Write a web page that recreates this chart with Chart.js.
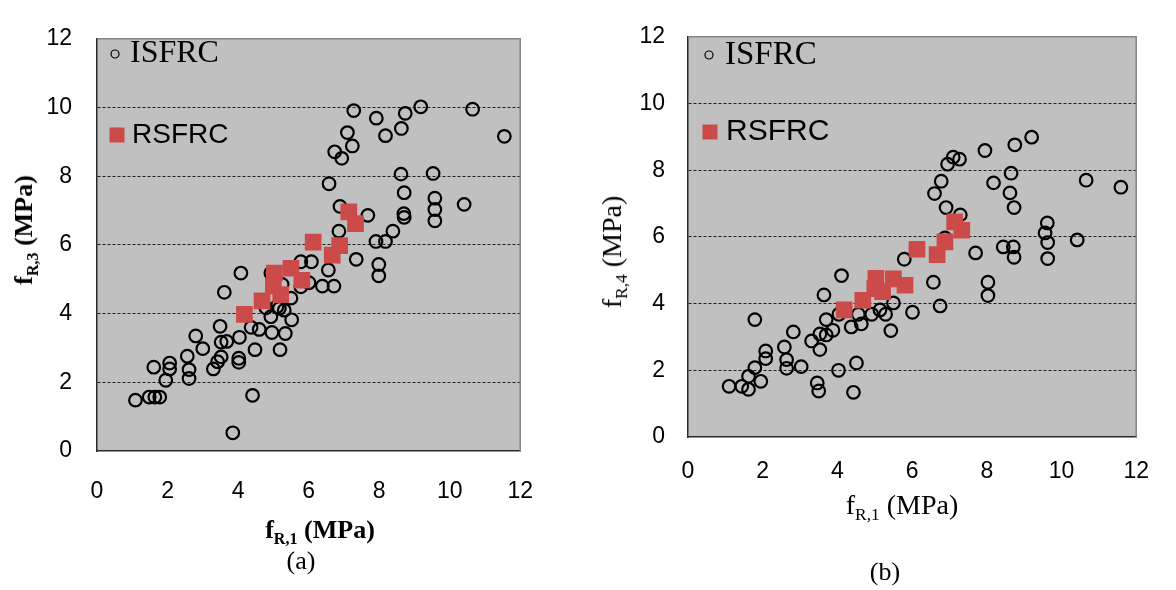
<!DOCTYPE html>
<html>
<head>
<meta charset="utf-8">
<script src="https://cdn.jsdelivr.net/npm/chart.js@4.4.0/dist/chart.umd.min.js"></script>
<style>
  body { margin: 0; background: #fff; width: 1176px; height: 590px; position: relative; overflow: hidden; }
  canvas { position: absolute; top: 0; }
  .lbl { position: absolute; font-family: "Liberation Serif", "Times New Roman", serif; color: #000; white-space: nowrap; line-height: 1; }
  .lbl sub { font-size: 0.62em; vertical-align: -0.35em; line-height: 0; }
</style>
</head>
<body>
<canvas id="chartA" width="560" height="520" style="left:0"></canvas>
<canvas id="chartB" width="580" height="500" style="left:590px"></canvas>

<div class="lbl" style="left:24px;top:230px;font-size:26px;font-weight:bold;transform:translate(-50%,-50%) rotate(-90deg)">f<sub>R,3</sub> (MPa)</div>
<div class="lbl" style="left:320px;top:530px;font-size:26px;font-weight:bold;transform:translate(-50%,-50%)">f<sub>R,1</sub> (MPa)</div>
<div class="lbl" style="left:301px;top:561px;font-size:26px;transform:translate(-50%,-50%)">(a)</div>

<div class="lbl" style="left:612px;top:252px;font-size:28px;transform:translate(-50%,-50%) rotate(-90deg)">f<sub>R,4</sub> (MPa)</div>
<div class="lbl" style="left:902px;top:505px;font-size:28px;transform:translate(-50%,-50%)">f<sub>R,1</sub> (MPa)</div>
<div class="lbl" style="left:885px;top:572px;font-size:26px;transform:translate(-50%,-50%)">(b)</div>

<script>
const xTicks = [0, 2, 4, 6, 8, 10, 12];
const yTicks = [0, 2, 4, 6, 8, 10, 12];
const seriesNames = ["ISFRC", "RSFRC"];

// (a) fR,1 vs fR,3
const isfrcA = [
  [1.09,1.48],[1.48,1.57],[1.64,1.57],[1.78,1.57],[1.61,2.44],[1.95,2.06],[2.06,2.56],[2.06,2.39],
  [2.61,2.37],[2.61,2.11],[2.56,2.76],[2.80,3.35],[3.00,2.98],[3.30,2.39],[3.42,2.60],[3.52,2.74],
  [3.52,3.17],[3.68,3.19],[3.49,3.63],[3.61,4.62],[4.08,5.18],[4.02,2.70],[4.02,2.58],[4.04,3.31],
  [3.85,0.53],[4.41,1.62],[4.48,2.95],[4.37,3.60],[4.60,3.54],[4.96,3.45],[5.34,3.42],[5.19,2.95],
  [4.93,3.91],[5.52,3.82],[4.79,4.17],[5.17,4.15],[5.31,4.10],[5.50,4.45],[4.93,5.18],[5.25,4.85],
  [5.78,4.78],[6.01,4.90],[6.39,4.80],[6.72,4.80],[6.56,5.27],[5.78,5.51],[6.08,5.51],[7.35,5.58],
  [7.99,5.43],[7.99,5.10],[6.86,6.40],[8.39,6.40],[7.91,6.10],[8.18,6.10],[7.68,6.86],[8.70,6.91],
  [8.71,6.80],[6.89,7.12],[9.58,7.36],[9.58,7.03],[9.58,6.70],[10.41,7.18],[8.71,7.52],[6.58,7.78],
  [8.62,8.06],[9.53,8.08],[6.74,8.71],[6.94,8.52],[7.10,9.27],[7.24,8.88],[7.28,9.91],[7.92,9.69],
  [8.18,9.18],[8.63,9.39],[8.74,9.83],[9.18,10.02],[10.65,9.95],[11.55,9.16],[5.10,4.20]
];
const rsfrcA = [
  [4.18,3.98],[4.68,4.37],[5.21,4.55],[5.00,4.80],[5.81,4.97],[5.03,5.18],
  [5.50,5.32],[6.13,6.08],[6.67,5.70],[6.88,5.98],[7.14,6.96],[7.33,6.62]
];

// (b) fR,1 vs fR,4
const isfrcB = [
  [1.10,1.52],[1.44,1.52],[1.62,1.43],[1.95,1.67],[1.62,1.82],[1.79,2.08],[1.79,3.52],[2.08,2.58],
  [2.08,2.35],[2.58,2.70],[2.64,2.32],[2.64,2.06],[2.82,3.15],[3.03,2.11],[3.31,2.88],[3.53,2.62],
  [3.53,3.09],[3.70,3.06],[3.88,3.20],[3.70,3.52],[3.64,4.26],[4.11,4.84],[3.46,1.62],[3.50,1.38],
  [4.03,2.00],[4.51,2.22],[4.43,1.34],[4.04,3.68],[4.37,3.30],[4.64,3.39],[4.56,3.68],[4.92,3.68],
  [5.14,3.81],[5.29,3.68],[5.43,3.19],[5.50,4.02],[6.01,3.74],[5.79,5.33],[6.57,4.64],[6.75,3.93],
  [6.88,5.97],[7.70,5.52],[8.03,4.64],[8.03,4.24],[8.44,5.70],[8.71,5.70],[8.73,5.39],[9.56,6.12],
  [9.63,5.83],[9.63,5.35],[9.62,6.42],[10.42,5.91],[6.91,6.88],[7.29,6.66],[8.73,6.88],[8.62,7.32],
  [8.65,7.91],[8.18,7.62],[6.60,7.30],[6.78,7.67],[6.95,8.18],[7.10,8.39],[7.27,8.33],[7.95,8.59],
  [8.75,8.76],[9.20,8.99],[10.66,7.70],[11.59,7.49]
];
const rsfrcB = [
  [4.18,3.81],[4.68,4.10],[5.21,4.36],[5.00,4.45],[5.81,4.55],[5.03,4.76],
  [5.50,4.74],[6.13,5.63],[6.67,5.47],[6.88,5.85],[7.14,6.45],[7.33,6.20]
];

const toPoints = (arr) => arr.map(([x, y]) => ({ x, y }));

// grey plot area + thin grey frame on top/right
const plotFrame = {
  id: "plotFrame",
  beforeDraw(chart) {
    const { ctx, chartArea: a } = chart;
    ctx.save();
    ctx.fillStyle = "#c0c0c0";
    ctx.fillRect(a.left, a.top, a.right - a.left, a.bottom - a.top);
    ctx.restore();
  },
  beforeDatasetsDraw(chart) {
    const { ctx, chartArea: a } = chart;
    ctx.save();
    ctx.strokeStyle = "#858585";
    ctx.lineWidth = 1.5;
    ctx.beginPath();
    ctx.moveTo(a.left, a.top);
    ctx.lineTo(a.right, a.top);
    ctx.lineTo(a.right, a.bottom);
    ctx.stroke();
    ctx.restore();
  }
};

// legend box drawn inside the plot, like the original
const inlineLegend = {
  id: "inlineLegend",
  afterDatasetsDraw(chart, args, opts) {
    const ctx = chart.ctx;
    ctx.save();
    chart.data.datasets.forEach((ds) => {
      const it = opts.items[ds.label];
      if (!it) return;
      if (ds.pointStyle === "circle") {
        ctx.beginPath();
        ctx.arc(it.mx, it.my, 4, 0, Math.PI * 2);
        ctx.lineWidth = 1.2;
        ctx.strokeStyle = "#000";
        ctx.stroke();
      } else {
        ctx.fillStyle = ds.backgroundColor;
        ctx.fillRect(it.mx - 7.5, it.my - 7.5, 15, 15);
      }
      ctx.fillStyle = "#000";
      ctx.font = it.font;
      ctx.textBaseline = "middle";
      ctx.textAlign = "left";
      ctx.fillText(ds.label, it.tx, it.my);
    });
    ctx.restore();
  }
};

const tickFont = { family: "'Liberation Sans', Arial, sans-serif", size: 23 };

const makeScales = (yWidth, xHeight, yPad, xPad) => ({
  x: {
    type: "linear",
    min: xTicks[0],
    max: xTicks[xTicks.length - 1],
    afterBuildTicks: (s) => { s.ticks = xTicks.map((v) => ({ value: v })); },
    afterFit: (s) => { s.height = xHeight; },
    grid: { display: false, drawTicks: false },
    border: { display: true, color: "#2a2a2a", width: 1.5 },
    ticks: { padding: xPad, color: "#000", font: tickFont }
  },
  y: {
    type: "linear",
    min: yTicks[0],
    max: yTicks[yTicks.length - 1],
    afterBuildTicks: (s) => { s.ticks = yTicks.map((v) => ({ value: v })); },
    afterFit: (s) => { s.width = yWidth; },
    grid: {
      drawTicks: false,
      lineWidth: 1,
      color: (c) => (c.tick && (c.tick.value === yTicks[0] || c.tick.value === yTicks[yTicks.length - 1])) ? "rgba(0,0,0,0)" : "#1e1e1e"
    },
    border: { display: true, color: "#2a2a2a", width: 1.5, dash: [3, 2] },
    ticks: { padding: yPad, color: "#000", font: tickFont }
  }
});

const makeDatasets = (isfrc, rsfrc) => [
  {
    label: seriesNames[1],
    data: toPoints(rsfrc),
    pointStyle: "rect",
    pointRadius: 11.8,
    pointBorderWidth: 0,
    backgroundColor: "#cc4a4a",
    borderColor: "#cc4a4a",
    order: 0
  },
  {
    label: seriesNames[0],
    data: toPoints(isfrc),
    pointStyle: "circle",
    pointRadius: 6.3,
    pointBorderWidth: 2.2,
    backgroundColor: "rgba(0,0,0,0)",
    borderColor: "#000",
    order: 1
  }
];

const makeChart = (id, isfrc, rsfrc, layoutPad, scales, legendItems) =>
  new Chart(document.getElementById(id).getContext("2d"), {
    type: "scatter",
    data: { datasets: makeDatasets(isfrc, rsfrc) },
    options: {
      responsive: false,
      animation: false,
      layout: { padding: layoutPad },
      scales,
      plugins: {
        legend: { display: false },
        tooltip: { enabled: false },
        inlineLegend: { items: legendItems }
      }
    },
    plugins: [plotFrame, inlineLegend]
  });

makeChart("chartA", isfrcA, rsfrcA,
  { top: 24, right: 38, left: 0, bottom: 0 },
  makeScales(97, 69, 25, 27),
  {
    ISFRC: { mx: 115, my: 54, tx: 130, font: "32px 'Liberation Serif', serif" },
    RSFRC: { mx: 117, my: 135, tx: 132, font: "28px 'Liberation Sans', sans-serif" }
  });

makeChart("chartB", isfrcB, rsfrcB,
  { top: 21, right: 22, left: 0, bottom: 0 },
  makeScales(98, 63, 23, 21),
  {
    ISFRC: { mx: 119, my: 55, tx: 135, font: "33px 'Liberation Serif', serif" },
    RSFRC: { mx: 120, my: 132, tx: 136, font: "30px 'Liberation Sans', sans-serif" }
  });
</script>
</body>
</html>
